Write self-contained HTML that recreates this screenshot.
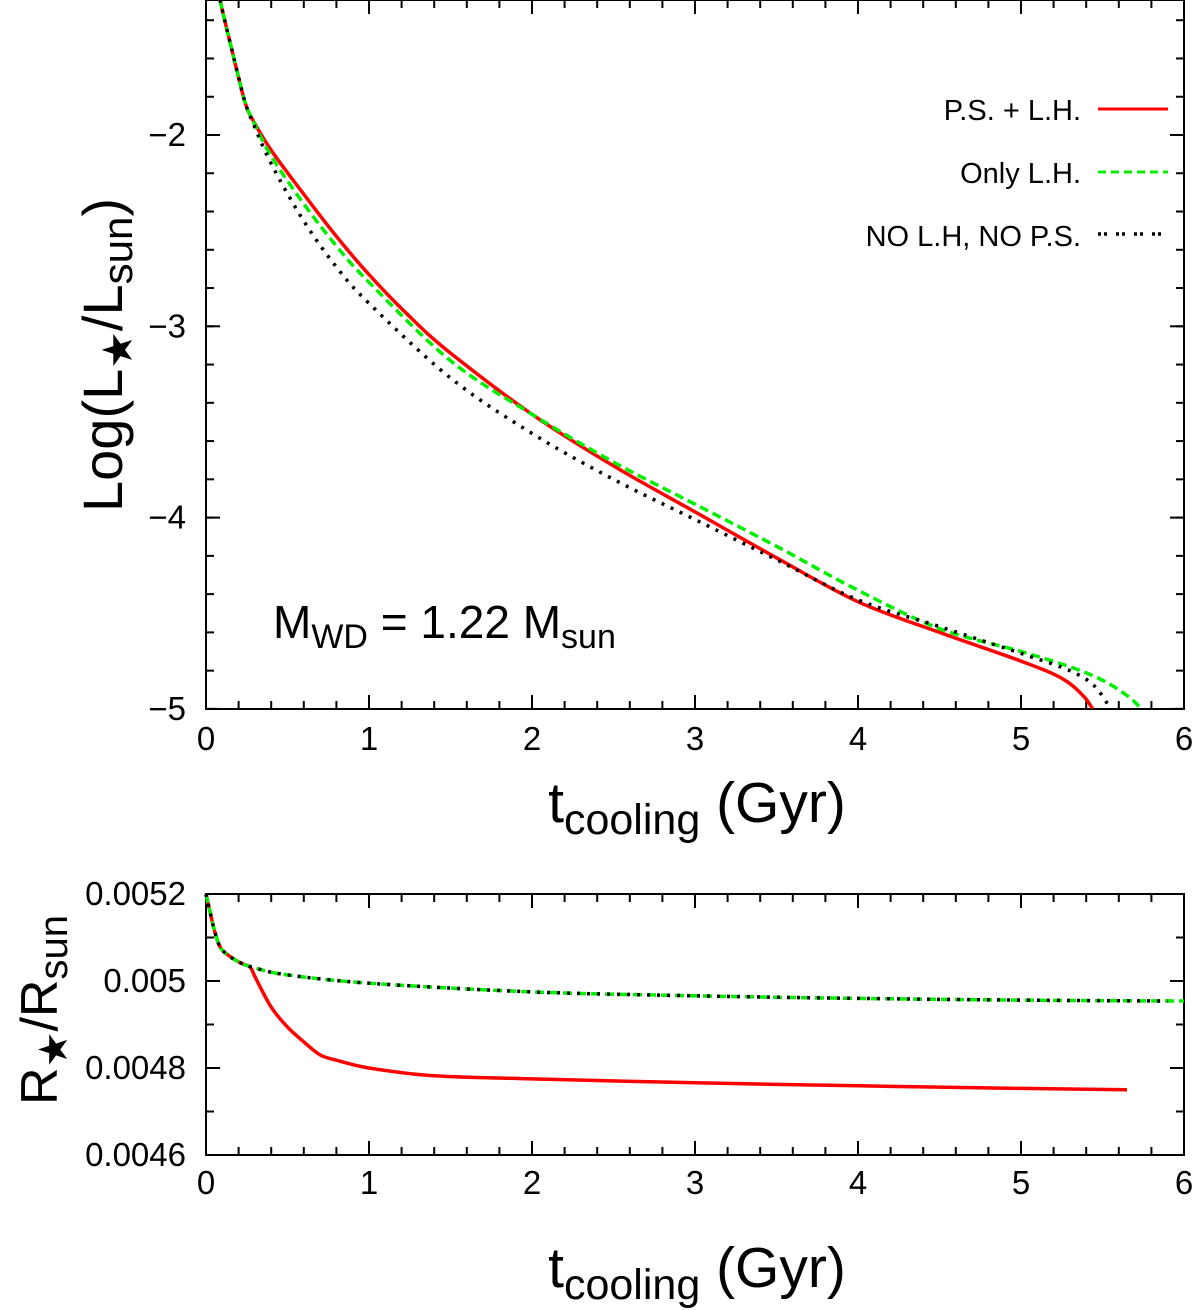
<!DOCTYPE html>
<html><head><meta charset="utf-8"><style>
html,body{margin:0;padding:0;background:#fff;}
svg{display:block;font-family:"Liberation Sans",sans-serif;}
</style></head><body>
<svg id="chart" width="1200" height="1310" viewBox="0 0 1200 1310" xmlns="http://www.w3.org/2000/svg">
<defs><clipPath id="cpt"><rect x="206" y="0" width="978" height="709"/></clipPath></defs>
<g id="topPanel"></g>
<g id="botPanel"></g>
<g font-size="29" text-anchor="end">
  <text x="1081" y="120">P.S. + L.H.</text>
  <line x1="1098" y1="109" x2="1168" y2="109" stroke="#ff0000" stroke-width="3"/>
  <text x="1081" y="183">Only L.H.</text>
  <line x1="1098" y1="172" x2="1168" y2="172" stroke="#00ee00" stroke-width="3" stroke-dasharray="8,5"/>
  <text x="1081" y="246">NO L.H, NO P.S.</text>
  <line x1="1098" y1="234" x2="1168" y2="234" stroke="#000" stroke-width="3.5" stroke-dasharray="3,3,3,9"/>
</g>
<text x="273" y="638" font-size="46">M<tspan font-size="34" dy="10">WD</tspan><tspan dy="-10"> = 1.22 M</tspan><tspan font-size="34" dy="10">sun</tspan></text>
<text transform="translate(122,355) rotate(-90)" text-anchor="middle" font-size="56">Log(L<tspan font-size="42" dy="10">★</tspan><tspan dy="-10">/L</tspan><tspan font-size="42" dy="10">sun</tspan><tspan dy="-10">)</tspan></text>
<text x="697" y="822" text-anchor="middle" font-size="57">t<tspan font-size="43" dy="12">cooling</tspan><tspan dy="-12"> (Gyr)</tspan></text>
<text transform="translate(57,1010) rotate(-90)" text-anchor="middle" font-size="52">R<tspan font-size="40" dy="10">★</tspan><tspan dy="-10">/R</tspan><tspan font-size="40" dy="10">sun</tspan></text>
<text x="697" y="1287" text-anchor="middle" font-size="57">t<tspan font-size="43" dy="12">cooling</tspan><tspan dy="-12"> (Gyr)</tspan></text>
</svg>
<script>
const xTicks=[0,1,2,3,4,5,6];
const topYTicks=[-2,-3,-4,-5];
const topYLabels=["−2","−3","−4","−5"];
const botYTicks=[0.0052,0.005,0.0048,0.0046];
const botYLabels=["0.0052","0.005","0.0048","0.0046"];
// Top panel: log L vs t
const redT=[0.086,0.12,0.16,0.2,0.24,0.28,0.4,0.6,0.8,1.0,1.25,1.5,2.0,2.5,3.0,3.5,4.0,4.5,5.0,5.25,5.38,5.44];
const redL=[-1.294,-1.42,-1.56,-1.7,-1.83,-1.91,-2.08,-2.31,-2.53,-2.73,-2.95,-3.14,-3.46,-3.73,-3.97,-4.21,-4.44,-4.60,-4.75,-4.84,-4.93,-5.0];
const greenT=[0.086,0.12,0.16,0.2,0.24,0.28,0.4,0.6,0.8,1.0,1.5,2.0,2.5,3.0,3.5,4.0,4.5,5.0,5.3,5.5,5.65,5.74];
const greenL=[-1.294,-1.42,-1.56,-1.7,-1.83,-1.91,-2.11,-2.36,-2.58,-2.77,-3.18,-3.46,-3.71,-3.93,-4.15,-4.38,-4.58,-4.70,-4.78,-4.85,-4.93,-5.0];
const blackT=[0.086,0.12,0.16,0.2,0.24,0.28,0.4,0.6,0.8,1.0,1.5,2.0,2.5,3.0,3.5,4.0,4.5,5.0,5.3,5.45,5.55];
const blackL=[-1.294,-1.42,-1.56,-1.7,-1.83,-1.92,-2.15,-2.45,-2.69,-2.88,-3.27,-3.56,-3.80,-4.01,-4.22,-4.43,-4.57,-4.71,-4.80,-4.88,-5.0];
// Bottom panel: R vs t
const rRedT=[0,0.03,0.06,0.1,0.2,0.27,0.3,0.4,0.5,0.6,0.7,0.8,1.0,1.4,2.0,3.0,4.0,5.0,5.65];
const rRedR=[0.00520,0.00515,0.005105,0.005071,0.005044,0.005032,0.00501,0.00494,0.004894,0.00486,0.00483,0.004818,0.0048,0.004782,0.004775,0.004766,0.004759,0.004753,0.00475];
const rGreenT=[0,0.03,0.06,0.1,0.2,0.3,0.5,1.0,2.0,3.0,4.0,5.0,6.0];
const rGreenR=[0.00520,0.00515,0.005105,0.005071,0.005044,0.00503,0.005014,0.004995,0.004975,0.004966,0.00496,0.004956,0.004954];
const rBlackT=[0,0.03,0.06,0.1,0.2,0.3,0.5,1.0,2.0,3.0,4.0,5.0,5.9];
const rBlackR=[0.00520,0.00515,0.005105,0.005071,0.005044,0.00503,0.005014,0.004995,0.004975,0.004966,0.00496,0.004956,0.004954];

const NS="http://www.w3.org/2000/svg";
function mk(tag,parent,attrs){const e=document.createElementNS(NS,tag);for(const k in attrs)e.setAttribute(k,attrs[k]);parent.appendChild(e);return e;}
const LX=206,RX=1184;
const xs=t=>LX+(RX-LX)*t/6;
const topY=v=>135+(-2-v)*191.3;
const botY=v=>894+(0.0052-v)/0.0002*87;

function panel(g,y0,y1,yfun,yTicks,yLabels,yMinor,lblY,nm){
  const fr=mk('rect',g,{x:LX,y:y0,width:RX-LX,height:y1-y0,fill:'none',stroke:'#000','stroke-width':2});
  
  
  for(let i=0;i<=30;i++){const t=i*0.2;const x=xs(t);const len=(i%5==0)?14:8;
    mk('line',g,{x1:x,y1:y1,x2:x,y2:y1-len,stroke:'#000','stroke-width':2});
    mk('line',g,{x1:x,y1:y0,x2:x,y2:y0+len,stroke:'#000','stroke-width':2});}
  xTicks.forEach(t=>{const e=mk('text',g,{x:xs(t),y:lblY,'text-anchor':'middle','font-size':33});e.textContent=t;
    
    });
  yMinor.forEach(v=>{const y=yfun(v);if(y<y0-1||y>y1+1)return;
    mk('line',g,{x1:LX,y1:y,x2:LX+8,y2:y,stroke:'#000','stroke-width':2});
    mk('line',g,{x1:RX,y1:y,x2:RX-8,y2:y,stroke:'#000','stroke-width':2});});
  yTicks.forEach((v,i)=>{const y=yfun(v);
    mk('line',g,{x1:LX,y1:y,x2:LX+14,y2:y,stroke:'#000','stroke-width':2});
    mk('line',g,{x1:RX,y1:y,x2:RX-14,y2:y,stroke:'#000','stroke-width':2});
    const e=mk('text',g,{x:LX-20,y:y+11,'text-anchor':'end','font-size':33});e.textContent=yLabels[i];
    
    });
}
function series(g,T,V,yfun,style,nm){
  const P=T.map((t,i)=>[xs(t),yfun(V[i])]);
  let d='M'+P[0][0].toFixed(1)+','+P[0][1].toFixed(1);
  for(let i=0;i<P.length-1;i++){
    const p0=P[i-1]||P[i],p1=P[i],p2=P[i+1],p3=P[i+2]||P[i+1];
    const c1=[p1[0]+(p2[0]-p0[0])/6,p1[1]+(p2[1]-p0[1])/6];
    const c2=[p2[0]-(p3[0]-p1[0])/6,p2[1]-(p3[1]-p1[1])/6];
    d+=' C'+c1.map(v=>v.toFixed(1)).join(',')+' '+c2.map(v=>v.toFixed(1)).join(',')+' '+p2.map(v=>v.toFixed(1)).join(',');
  }
  const p=mk('path',g,Object.assign({d:d,fill:'none'},style));
  
  
}
const topG=document.getElementById('topPanel'),botG=document.getElementById('botPanel');
const topMinor=[];for(let v=-1.4;v>=-5.01;v-=0.2)topMinor.push(+v.toFixed(2));
panel(topG,0,709,topY,topYTicks,topYLabels,topMinor,750,'top');
const botMinor=[0.0051,0.0049,0.0047];
panel(botG,894,1155,botY,botYTicks,botYLabels,botMinor,1194,'bottom');
const tg=mk('g',topG,{'clip-path':'url(#cpt)'});
const red={stroke:'#ff0000','stroke-width':3.5};
const green={stroke:'#00ee00','stroke-width':3.5,'stroke-dasharray':'9,5'};
const black={stroke:'#000','stroke-width':3.5,'stroke-dasharray':'3,7'};
series(tg,redT,redL,topY,red,'series-ps-lh-luminosity');
series(tg,greenT,greenL,topY,green,'series-only-lh-luminosity');
series(tg,blackT,blackL,topY,black,'series-no-lh-no-ps-luminosity');
series(botG,rRedT,rRedR,botY,red,'series-ps-lh-radius');
series(botG,rGreenT,rGreenR,botY,green,'series-only-lh-radius');
series(botG,rBlackT,rBlackR,botY,black,'series-no-lh-no-ps-radius');
</script>
</body></html>
